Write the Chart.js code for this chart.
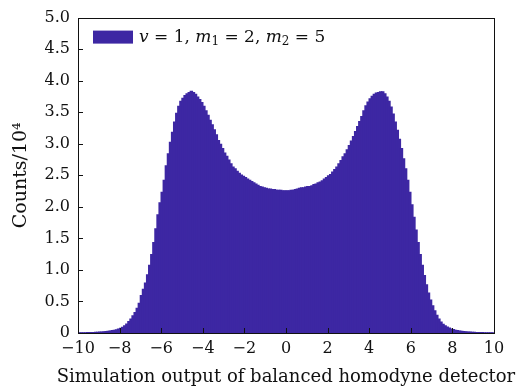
<!DOCTYPE html>
<html>
<head>
<meta charset="utf-8">
<script src="https://cdn.jsdelivr.net/npm/chart.js@4.4.1/dist/chart.umd.min.js"></script>
<style>
  html, body { margin: 0; padding: 0; background: #fff; }
  #wrap { width: 531px; height: 388px; }
</style>
</head>
<body>
<div id="wrap"><canvas id="histChart" width="531" height="388"></canvas></div>
<script>
// bin centres of the histogram (bin width 0.1)
const binCenters = [
  -9.95, -9.85, -9.75, -9.65, -9.55, -9.45, -9.35, -9.25, -9.15, -9.05,
  -8.95, -8.85, -8.75, -8.65, -8.55, -8.45, -8.35, -8.25, -8.15, -8.05,
  -7.95, -7.85, -7.75, -7.65, -7.55, -7.45, -7.35, -7.25, -7.15, -7.05,
  -6.95, -6.85, -6.75, -6.65, -6.55, -6.45, -6.35, -6.25, -6.15, -6.05,
  -5.95, -5.85, -5.75, -5.65, -5.55, -5.45, -5.35, -5.25, -5.15, -5.05,
  -4.95, -4.85, -4.75, -4.65, -4.55, -4.45, -4.35, -4.25, -4.15, -4.05,
  -3.95, -3.85, -3.75, -3.65, -3.55, -3.45, -3.35, -3.25, -3.15, -3.05,
  -2.95, -2.85, -2.75, -2.65, -2.55, -2.45, -2.35, -2.25, -2.15, -2.05,
  -1.95, -1.85, -1.75, -1.65, -1.55, -1.45, -1.35, -1.25, -1.15, -1.05,
  -0.95, -0.85, -0.75, -0.65, -0.55, -0.45, -0.35, -0.25, -0.15, -0.05,
  0.05, 0.15, 0.25, 0.35, 0.45, 0.55, 0.65, 0.75, 0.85, 0.95,
  1.05, 1.15, 1.25, 1.35, 1.45, 1.55, 1.65, 1.75, 1.85, 1.95,
  2.05, 2.15, 2.25, 2.35, 2.45, 2.55, 2.65, 2.75, 2.85, 2.95,
  3.05, 3.15, 3.25, 3.35, 3.45, 3.55, 3.65, 3.75, 3.85, 3.95,
  4.05, 4.15, 4.25, 4.35, 4.45, 4.55, 4.65, 4.75, 4.85, 4.95,
  5.05, 5.15, 5.25, 5.35, 5.45, 5.55, 5.65, 5.75, 5.85, 5.95,
  6.05, 6.15, 6.25, 6.35, 6.45, 6.55, 6.65, 6.75, 6.85, 6.95,
  7.05, 7.15, 7.25, 7.35, 7.45, 7.55, 7.65, 7.75, 7.85, 7.95,
  8.05, 8.15, 8.25, 8.35, 8.45, 8.55, 8.65, 8.75, 8.85, 8.95,
  9.05, 9.15, 9.25, 9.35, 9.45, 9.55, 9.65, 9.75, 9.85, 9.95
];

// counts per bin, in units of 10^4
const counts = [
  0.001, 0.001, 0.002, 0.002, 0.003, 0.004, 0.005, 0.006, 0.008, 0.010,
  0.012, 0.014, 0.017, 0.020, 0.024, 0.029, 0.035, 0.042, 0.050, 0.060,
  0.072, 0.088, 0.11, 0.14, 0.18, 0.22, 0.27, 0.32, 0.39, 0.47,
  0.59, 0.69, 0.79, 0.92, 1.07, 1.24, 1.43, 1.65, 1.87, 2.06,
  2.23, 2.42, 2.65, 2.84, 3.02, 3.18, 3.34, 3.48, 3.59, 3.67,
  3.72, 3.76, 3.79, 3.81, 3.83, 3.81, 3.78, 3.74, 3.70, 3.65,
  3.59, 3.52, 3.45, 3.37, 3.30, 3.22, 3.14, 3.05, 2.99, 2.92,
  2.85, 2.80, 2.74, 2.68, 2.63, 2.60, 2.56, 2.53, 2.50, 2.48,
  2.46, 2.44, 2.42, 2.40, 2.38, 2.36, 2.34, 2.32, 2.31, 2.30,
  2.29, 2.28, 2.28, 2.27, 2.27, 2.26, 2.26, 2.26, 2.25, 2.25,
  2.25, 2.25, 2.26, 2.26, 2.27, 2.28, 2.29, 2.30, 2.30, 2.31,
  2.32, 2.32, 2.33, 2.35, 2.36, 2.38, 2.39, 2.41, 2.44, 2.46,
  2.49, 2.51, 2.55, 2.59, 2.63, 2.68, 2.73, 2.79, 2.84, 2.90,
  2.97, 3.04, 3.11, 3.19, 3.27, 3.35, 3.43, 3.52, 3.60, 3.66,
  3.71, 3.75, 3.78, 3.80, 3.81, 3.82, 3.82, 3.79, 3.74, 3.67,
  3.58, 3.47, 3.34, 3.21, 3.07, 2.92, 2.76, 2.60, 2.42, 2.23,
  2.03, 1.83, 1.63, 1.43, 1.24, 1.07, 0.91, 0.76, 0.63, 0.52,
  0.43, 0.35, 0.28, 0.22, 0.17, 0.135, 0.11, 0.09, 0.075, 0.062,
  0.051, 0.042, 0.035, 0.029, 0.024, 0.020, 0.016, 0.013, 0.011, 0.009,
  0.007, 0.006, 0.005, 0.004, 0.003, 0.002, 0.002, 0.001, 0.001, 0.001
];

const xTicks = [-10, -8, -6, -4, -2, 0, 2, 4, 6, 8, 10];
const yTicks = [0, 0.5, 1.0, 1.5, 2.0, 2.5, 3.0, 3.5, 4.0, 4.5, 5.0];

const xTitle = 'Simulation output of balanced homodyne detector';
const yTitle = 'Counts/10\u2074';

// legend label pieces: [text, style]
const legendParts = [
  ['v', 'it'], [' = 1, ', 'rm'],
  ['m', 'it'], ['1', 'sub'], [' = 2, ', 'rm'],
  ['m', 'it'], ['2', 'sub'], [' = 5', 'rm']
];

const barColor = 'rgb(61, 39, 163)';
const serif = '"DejaVu Serif", "Liberation Serif", serif';

// box frame, inward ticks, x title (wider than the plot) and the legend
const frameAndLegend = {
  id: 'frameAndLegend',
  afterDraw(chart) {
    const { ctx, chartArea: a, scales: { x, y } } = chart;
    ctx.save();
    ctx.strokeStyle = '#111';
    ctx.lineWidth = 1;
    ctx.beginPath();
    x.ticks.forEach(t => {
      const px = Math.round(x.getPixelForValue(t.value)) + 0.5;
      ctx.moveTo(px, a.bottom);
      ctx.lineTo(px, a.bottom - 5);
    });
    y.ticks.forEach(t => {
      const py = Math.round(y.getPixelForValue(t.value)) + 0.5;
      ctx.moveTo(a.left, py);
      ctx.lineTo(a.left + 5, py);
    });
    ctx.stroke();
    ctx.strokeRect(Math.round(a.left) + 0.5, Math.round(a.top) + 0.5,
      Math.round(a.right - a.left), Math.round(a.bottom - a.top));

    // x axis title
    ctx.fillStyle = '#111';
    ctx.font = '18px ' + serif;
    ctx.textAlign = 'center';
    ctx.textBaseline = 'middle';
    ctx.fillText(xTitle, (a.left + a.right) / 2, a.bottom + 44);

    // legend
    const lx = a.left + 15, ly = a.top + 13;
    ctx.fillStyle = barColor;
    ctx.fillRect(lx, ly, 40, 13);
    let tx = lx + 46;
    const ty = ly + 7;
    ctx.fillStyle = '#111';
    ctx.textAlign = 'left';
    legendParts.forEach(([txt, st]) => {
      if (st === 'it') ctx.font = 'italic 17px ' + serif;
      else if (st === 'sub') ctx.font = '12px ' + serif;
      else ctx.font = '17px ' + serif;
      ctx.fillText(txt, tx, st === 'sub' ? ty + 4 : ty);
      tx += ctx.measureText(txt).width;
    });
    ctx.restore();
  }
};

const ctx = document.getElementById('histChart').getContext('2d');

new Chart(ctx, {
  type: 'bar',
  data: {
    datasets: [{
      label: 'v = 1, m1 = 2, m2 = 5',
      data: binCenters.map((c, i) => ({ x: c, y: counts[i] })),
      backgroundColor: barColor,
      borderWidth: 0,
      inflateAmount: 0.7,
      categoryPercentage: 1.0,
      barPercentage: 1.0
    }]
  },
  options: {
    responsive: false,
    animation: false,
    layout: { padding: { top: 16, right: 37, left: 0, bottom: 0 } },
    plugins: {
      legend: { display: false },
      tooltip: { enabled: false }
    },
    scales: {
      x: {
        type: 'linear',
        offset: false,
        min: -10,
        max: 10,
        afterFit: s => { s.height = 55; },
        afterBuildTicks: s => { s.ticks = xTicks.map(v => ({ value: v })); },
        grid: { display: false, drawTicks: false },
        border: { display: false },
        ticks: {
          padding: 6,
          color: '#111',
          font: { family: serif, size: 16 },
          maxRotation: 0,
          callback: v => (v < 0 ? '\u2212' + Math.abs(v) : String(v))
        },
        title: { display: false }
      },
      y: {
        min: 0,
        max: 5,
        afterFit: s => { s.width = 78; },
        afterBuildTicks: s => { s.ticks = yTicks.map(v => ({ value: v })); },
        grid: { display: false, drawTicks: false },
        border: { display: false },
        ticks: {
          padding: 8,
          color: '#111',
          font: { family: serif, size: 16 },
          callback: v => (v === 0 ? '0' : v.toFixed(1))
        },
        title: {
          display: true,
          text: yTitle,
          color: '#111',
          font: { family: serif, size: 19 },
          padding: { top: 10, bottom: 0 }
        }
      }
    }
  },
  plugins: [frameAndLegend]
});
</script>
</body>
</html>
